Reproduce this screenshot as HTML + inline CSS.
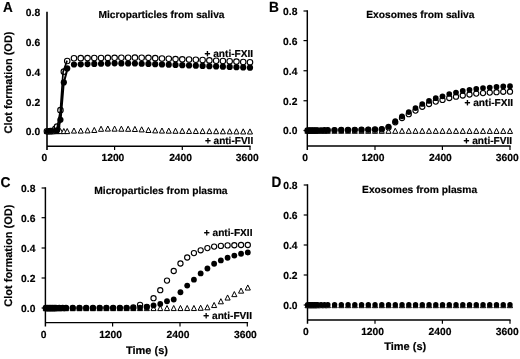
<!DOCTYPE html>
<html lang="en"><head><meta charset="utf-8"><title>Clot formation</title>
<style>html,body{margin:0;padding:0;background:#fff}svg{display:block;filter:blur(.3px)}text{stroke:#000;stroke-width:.18px;stroke-linejoin:round}</style></head>
<body>
<svg width="520" height="359" viewBox="0 0 520 359" font-family='"Liberation Sans", Arial, Helvetica, sans-serif' font-weight="700" fill="#000" text-rendering="geometricPrecision">
<rect width="520" height="359" fill="#fff"/>
<path d="M47 11.799999999999999V150.1M47 146.2H250.6" fill="none" stroke="#000" stroke-width="1.6" stroke-linejoin="miter"/>
<path d="M114.6 146.2V150.1" stroke="#000" stroke-width="1.2"/>
<path d="M182.3 146.2V150.1" stroke="#000" stroke-width="1.2"/>
<path d="M250 146.2V150.1" stroke="#000" stroke-width="1.2"/>
<text x="40.2" y="16.3" font-size="10.3" text-anchor="end" >0.8</text>
<text x="40.2" y="46.3" font-size="10.3" text-anchor="end" >0.6</text>
<text x="40.2" y="76.3" font-size="10.3" text-anchor="end" >0.4</text>
<text x="40.2" y="105.9" font-size="10.3" text-anchor="end" >0.2</text>
<text x="40.2" y="135.3" font-size="10.3" text-anchor="end" >0.0</text>
<text x="44.4" y="161.1" font-size="10.3" text-anchor="middle" >0</text>
<text x="112.9" y="161.1" font-size="10.3" text-anchor="middle" >1200</text>
<text x="180.6" y="161.1" font-size="10.3" text-anchor="middle" >2400</text>
<text x="247.2" y="161.1" font-size="10.3" text-anchor="middle" >3600</text>
<path d="M307.3 10.275V149.9M307.3 146.0H510.6" fill="none" stroke="#000" stroke-width="1.45" stroke-linejoin="miter"/>
<path d="M375 146.0V149.9" stroke="#000" stroke-width="1.2"/>
<path d="M442.4 146.0V149.9" stroke="#000" stroke-width="1.2"/>
<path d="M510 146.0V149.9" stroke="#000" stroke-width="1.2"/>
<path d="M303.5 11H307.3" stroke="#000" stroke-width="1.2"/>
<path d="M303.5 40.6H307.3" stroke="#000" stroke-width="1.2"/>
<path d="M303.5 70.75H307.3" stroke="#000" stroke-width="1.2"/>
<path d="M303.5 100.75H307.3" stroke="#000" stroke-width="1.2"/>
<path d="M303.5 130.5H307.3" stroke="#000" stroke-width="1.2"/>
<text x="297.4" y="14.9" font-size="10.3" text-anchor="end" >0.8</text>
<text x="297.4" y="44.5" font-size="10.3" text-anchor="end" >0.6</text>
<text x="297.4" y="74.8" font-size="10.3" text-anchor="end" >0.4</text>
<text x="297.4" y="104.7" font-size="10.3" text-anchor="end" >0.2</text>
<text x="297.4" y="134.3" font-size="10.3" text-anchor="end" >0.0</text>
<text x="305.0" y="160.7" font-size="10.3" text-anchor="middle" >0</text>
<text x="373.0" y="160.7" font-size="10.3" text-anchor="middle" >1200</text>
<text x="440.4" y="160.7" font-size="10.3" text-anchor="middle" >2400</text>
<text x="507.3" y="160.7" font-size="10.3" text-anchor="middle" >3600</text>
<path d="M45.4 187.275V326.5M45.4 322.6H248.1" fill="none" stroke="#000" stroke-width="1.45" stroke-linejoin="miter"/>
<path d="M112.6 322.6V326.5" stroke="#000" stroke-width="1.2"/>
<path d="M180 322.6V326.5" stroke="#000" stroke-width="1.2"/>
<path d="M247.3 322.6V326.5" stroke="#000" stroke-width="1.2"/>
<path d="M41.6 188H45.4" stroke="#000" stroke-width="1.2"/>
<path d="M41.6 217.7H45.4" stroke="#000" stroke-width="1.2"/>
<path d="M41.6 248H45.4" stroke="#000" stroke-width="1.2"/>
<path d="M41.6 278H45.4" stroke="#000" stroke-width="1.2"/>
<path d="M41.6 308H45.4" stroke="#000" stroke-width="1.2"/>
<text x="35.4" y="191.8" font-size="10.3" text-anchor="end" >0.8</text>
<text x="35.4" y="221.5" font-size="10.3" text-anchor="end" >0.6</text>
<text x="35.4" y="251.8" font-size="10.3" text-anchor="end" >0.4</text>
<text x="35.4" y="281.8" font-size="10.3" text-anchor="end" >0.2</text>
<text x="35.4" y="311.8" font-size="10.3" text-anchor="end" >0.0</text>
<text x="43.6" y="338.2" font-size="10.3" text-anchor="middle" >0</text>
<text x="110.6" y="338.2" font-size="10.3" text-anchor="middle" >1200</text>
<text x="178.0" y="338.2" font-size="10.3" text-anchor="middle" >2400</text>
<text x="245.4" y="338.2" font-size="10.3" text-anchor="middle" >3600</text>
<path d="M307.5 184.275V323.84999999999997M307.5 319.95H510.6" fill="none" stroke="#000" stroke-width="1.45" stroke-linejoin="miter"/>
<path d="M375 319.95V323.84999999999997" stroke="#000" stroke-width="1.2"/>
<path d="M442.4 319.95V323.84999999999997" stroke="#000" stroke-width="1.2"/>
<path d="M510 319.95V323.84999999999997" stroke="#000" stroke-width="1.2"/>
<path d="M303.7 185H307.5" stroke="#000" stroke-width="1.2"/>
<path d="M303.7 215H307.5" stroke="#000" stroke-width="1.2"/>
<path d="M303.7 245H307.5" stroke="#000" stroke-width="1.2"/>
<path d="M303.7 275H307.5" stroke="#000" stroke-width="1.2"/>
<path d="M303.7 305H307.5" stroke="#000" stroke-width="1.2"/>
<text x="297.6" y="188.7" font-size="10.3" text-anchor="end" >0.8</text>
<text x="297.6" y="218.7" font-size="10.3" text-anchor="end" >0.6</text>
<text x="297.6" y="248.7" font-size="10.3" text-anchor="end" >0.4</text>
<text x="297.6" y="278.7" font-size="10.3" text-anchor="end" >0.2</text>
<text x="297.6" y="308.7" font-size="10.3" text-anchor="end" >0.0</text>
<text x="305.8" y="334.7" font-size="10.3" text-anchor="middle" >0</text>
<text x="372.6" y="334.7" font-size="10.3" text-anchor="middle" >1200</text>
<text x="440.0" y="334.7" font-size="10.3" text-anchor="middle" >2400</text>
<text x="507.2" y="334.7" font-size="10.3" text-anchor="middle" >3600</text>
<text transform="translate(2.9 11.9) scale(0.94 1)" font-size="14.4">A</text>
<text transform="translate(269.0 12.3) scale(0.94 1)" font-size="14.6">B</text>
<text transform="translate(0.6 186.9) scale(0.97 1)" font-size="14.2">C</text>
<text transform="translate(271.5 186.7) scale(0.92 1)" font-size="14.8">D</text>
<text x="161.5" y="17.5" font-size="10.22" text-anchor="middle" >Microparticles from saliva</text>
<text x="420.3" y="17.5" font-size="10.25" text-anchor="middle" >Exosomes from saliva</text>
<text x="160.9" y="193.6" font-size="10.25" text-anchor="middle" >Microparticles from plasma</text>
<text x="419.6" y="193.1" font-size="10.25" text-anchor="middle" >Exosomes from plasma</text>
<text transform="translate(12.2 82.5) rotate(-90)" font-size="11" text-anchor="middle">Clot formation (OD)</text>
<text transform="translate(12.0 255.7) rotate(-90)" font-size="11" text-anchor="middle">Clot formation (OD)</text>
<text x="147" y="353.5" font-size="11" text-anchor="middle" >Time (s)</text>
<text x="405.2" y="350.1" font-size="11" text-anchor="middle" >Time (s)</text>
<text x="253.2" y="57.2" font-size="10.15" text-anchor="end" >+ anti-FXII</text>
<text x="253.2" y="143.8" font-size="10.05" text-anchor="end" >+ anti-FVII</text>
<text x="513.2" y="106.4" font-size="10.15" text-anchor="end" >+ anti-FXII</text>
<text x="512.2" y="143.7" font-size="10.15" text-anchor="end" >+ anti-FVII</text>
<text x="252.5" y="236.1" font-size="10.15" text-anchor="end" >+ anti-FXII</text>
<text x="252.0" y="318.8" font-size="10.15" text-anchor="end" >+ anti-FVII</text>
<path d="M46.90 128.50L49.45 133.60L44.35 133.60Z" fill="#fff" stroke="#000" stroke-width="1.0" stroke-linejoin="miter"/>
<path d="M48.59 128.50L51.14 133.60L46.04 133.60Z" fill="#fff" stroke="#000" stroke-width="1.0" stroke-linejoin="miter"/>
<path d="M50.28 128.50L52.83 133.60L47.73 133.60Z" fill="#fff" stroke="#000" stroke-width="1.0" stroke-linejoin="miter"/>
<path d="M51.98 128.50L54.53 133.60L49.43 133.60Z" fill="#fff" stroke="#000" stroke-width="1.0" stroke-linejoin="miter"/>
<path d="M53.67 128.50L56.22 133.60L51.12 133.60Z" fill="#fff" stroke="#000" stroke-width="1.0" stroke-linejoin="miter"/>
<path d="M55.36 128.50L57.91 133.60L52.81 133.60Z" fill="#fff" stroke="#000" stroke-width="1.0" stroke-linejoin="miter"/>
<path d="M57.05 128.50L59.60 133.60L54.50 133.60Z" fill="#fff" stroke="#000" stroke-width="1.0" stroke-linejoin="miter"/>
<path d="M60.44 128.50L62.99 133.60L57.89 133.60Z" fill="#fff" stroke="#000" stroke-width="1.0" stroke-linejoin="miter"/>
<path d="M63.82 128.50L66.37 133.60L61.27 133.60Z" fill="#fff" stroke="#000" stroke-width="1.0" stroke-linejoin="miter"/>
<path d="M67.21 128.50L69.76 133.60L64.66 133.60Z" fill="#fff" stroke="#000" stroke-width="1.0" stroke-linejoin="miter"/>
<path d="M73.98 128.00L76.53 133.10L71.43 133.10Z" fill="#fff" stroke="#000" stroke-width="1.0" stroke-linejoin="miter"/>
<path d="M80.75 128.00L83.30 133.10L78.20 133.10Z" fill="#fff" stroke="#000" stroke-width="1.0" stroke-linejoin="miter"/>
<path d="M87.52 127.80L90.07 132.90L84.97 132.90Z" fill="#fff" stroke="#000" stroke-width="1.0" stroke-linejoin="miter"/>
<path d="M94.28 127.40L96.83 132.50L91.73 132.50Z" fill="#fff" stroke="#000" stroke-width="1.0" stroke-linejoin="miter"/>
<path d="M101.05 126.20L103.60 131.30L98.50 131.30Z" fill="#fff" stroke="#000" stroke-width="1.0" stroke-linejoin="miter"/>
<path d="M107.82 126.00L110.37 131.10L105.27 131.10Z" fill="#fff" stroke="#000" stroke-width="1.0" stroke-linejoin="miter"/>
<path d="M114.59 126.07L117.14 131.17L112.04 131.17Z" fill="#fff" stroke="#000" stroke-width="1.0" stroke-linejoin="miter"/>
<path d="M121.36 126.13L123.91 131.23L118.81 131.23Z" fill="#fff" stroke="#000" stroke-width="1.0" stroke-linejoin="miter"/>
<path d="M128.13 126.20L130.68 131.30L125.58 131.30Z" fill="#fff" stroke="#000" stroke-width="1.0" stroke-linejoin="miter"/>
<path d="M134.90 126.40L137.45 131.50L132.35 131.50Z" fill="#fff" stroke="#000" stroke-width="1.0" stroke-linejoin="miter"/>
<path d="M141.67 126.80L144.22 131.90L139.12 131.90Z" fill="#fff" stroke="#000" stroke-width="1.0" stroke-linejoin="miter"/>
<path d="M148.44 127.40L150.99 132.50L145.89 132.50Z" fill="#fff" stroke="#000" stroke-width="1.0" stroke-linejoin="miter"/>
<path d="M155.21 127.80L157.76 132.90L152.66 132.90Z" fill="#fff" stroke="#000" stroke-width="1.0" stroke-linejoin="miter"/>
<path d="M161.98 128.00L164.53 133.10L159.43 133.10Z" fill="#fff" stroke="#000" stroke-width="1.0" stroke-linejoin="miter"/>
<path d="M168.75 128.10L171.30 133.20L166.20 133.20Z" fill="#fff" stroke="#000" stroke-width="1.0" stroke-linejoin="miter"/>
<path d="M175.51 128.20L178.06 133.30L172.96 133.30Z" fill="#fff" stroke="#000" stroke-width="1.0" stroke-linejoin="miter"/>
<path d="M182.28 128.30L184.83 133.40L179.73 133.40Z" fill="#fff" stroke="#000" stroke-width="1.0" stroke-linejoin="miter"/>
<path d="M189.05 128.36L191.60 133.46L186.50 133.46Z" fill="#fff" stroke="#000" stroke-width="1.0" stroke-linejoin="miter"/>
<path d="M195.82 128.42L198.37 133.52L193.27 133.52Z" fill="#fff" stroke="#000" stroke-width="1.0" stroke-linejoin="miter"/>
<path d="M202.59 128.48L205.14 133.58L200.04 133.58Z" fill="#fff" stroke="#000" stroke-width="1.0" stroke-linejoin="miter"/>
<path d="M209.36 128.54L211.91 133.64L206.81 133.64Z" fill="#fff" stroke="#000" stroke-width="1.0" stroke-linejoin="miter"/>
<path d="M216.13 128.60L218.68 133.70L213.58 133.70Z" fill="#fff" stroke="#000" stroke-width="1.0" stroke-linejoin="miter"/>
<path d="M222.90 128.66L225.45 133.76L220.35 133.76Z" fill="#fff" stroke="#000" stroke-width="1.0" stroke-linejoin="miter"/>
<path d="M229.67 128.72L232.22 133.82L227.12 133.82Z" fill="#fff" stroke="#000" stroke-width="1.0" stroke-linejoin="miter"/>
<path d="M236.44 128.78L238.99 133.88L233.89 133.88Z" fill="#fff" stroke="#000" stroke-width="1.0" stroke-linejoin="miter"/>
<path d="M243.21 128.84L245.76 133.94L240.66 133.94Z" fill="#fff" stroke="#000" stroke-width="1.0" stroke-linejoin="miter"/>
<path d="M249.98 128.90L252.53 134.00L247.43 134.00Z" fill="#fff" stroke="#000" stroke-width="1.0" stroke-linejoin="miter"/>
<circle cx="46.90" cy="131.25" r="2.75" fill="#fff" stroke="#000" stroke-width="1.12"/>
<circle cx="48.59" cy="131.20" r="2.75" fill="#fff" stroke="#000" stroke-width="1.12"/>
<circle cx="50.28" cy="131.15" r="2.75" fill="#fff" stroke="#000" stroke-width="1.12"/>
<circle cx="51.98" cy="131.10" r="2.75" fill="#fff" stroke="#000" stroke-width="1.12"/>
<circle cx="53.67" cy="131.05" r="2.75" fill="#fff" stroke="#000" stroke-width="1.12"/>
<circle cx="55.36" cy="128.85" r="2.75" fill="#fff" stroke="#000" stroke-width="1.12"/>
<circle cx="57.05" cy="126.65" r="2.75" fill="#fff" stroke="#000" stroke-width="1.12"/>
<circle cx="60.44" cy="110.15" r="2.75" fill="#fff" stroke="#000" stroke-width="1.12"/>
<circle cx="63.82" cy="71.65" r="2.75" fill="#fff" stroke="#000" stroke-width="1.12"/>
<circle cx="67.21" cy="60.95" r="2.75" fill="#fff" stroke="#000" stroke-width="1.12"/>
<circle cx="73.98" cy="58.25" r="2.75" fill="#fff" stroke="#000" stroke-width="1.12"/>
<circle cx="80.75" cy="58.18" r="2.75" fill="#fff" stroke="#000" stroke-width="1.12"/>
<circle cx="87.52" cy="58.12" r="2.75" fill="#fff" stroke="#000" stroke-width="1.12"/>
<circle cx="94.28" cy="58.05" r="2.75" fill="#fff" stroke="#000" stroke-width="1.12"/>
<circle cx="101.05" cy="57.98" r="2.75" fill="#fff" stroke="#000" stroke-width="1.12"/>
<circle cx="107.82" cy="57.92" r="2.75" fill="#fff" stroke="#000" stroke-width="1.12"/>
<circle cx="114.59" cy="57.85" r="2.75" fill="#fff" stroke="#000" stroke-width="1.12"/>
<circle cx="121.36" cy="57.78" r="2.75" fill="#fff" stroke="#000" stroke-width="1.12"/>
<circle cx="128.13" cy="57.72" r="2.75" fill="#fff" stroke="#000" stroke-width="1.12"/>
<circle cx="134.90" cy="57.65" r="2.75" fill="#fff" stroke="#000" stroke-width="1.12"/>
<circle cx="141.67" cy="57.75" r="2.75" fill="#fff" stroke="#000" stroke-width="1.12"/>
<circle cx="148.44" cy="57.85" r="2.75" fill="#fff" stroke="#000" stroke-width="1.12"/>
<circle cx="155.21" cy="58.17" r="2.75" fill="#fff" stroke="#000" stroke-width="1.12"/>
<circle cx="161.98" cy="58.50" r="2.75" fill="#fff" stroke="#000" stroke-width="1.12"/>
<circle cx="168.75" cy="58.78" r="2.75" fill="#fff" stroke="#000" stroke-width="1.12"/>
<circle cx="175.51" cy="59.07" r="2.75" fill="#fff" stroke="#000" stroke-width="1.12"/>
<circle cx="182.28" cy="59.35" r="2.75" fill="#fff" stroke="#000" stroke-width="1.12"/>
<circle cx="189.05" cy="59.55" r="2.75" fill="#fff" stroke="#000" stroke-width="1.12"/>
<circle cx="195.82" cy="59.75" r="2.75" fill="#fff" stroke="#000" stroke-width="1.12"/>
<circle cx="202.59" cy="60.06" r="2.75" fill="#fff" stroke="#000" stroke-width="1.12"/>
<circle cx="209.36" cy="60.38" r="2.75" fill="#fff" stroke="#000" stroke-width="1.12"/>
<circle cx="216.13" cy="60.69" r="2.75" fill="#fff" stroke="#000" stroke-width="1.12"/>
<circle cx="222.90" cy="61.00" r="2.75" fill="#fff" stroke="#000" stroke-width="1.12"/>
<circle cx="229.67" cy="61.31" r="2.75" fill="#fff" stroke="#000" stroke-width="1.12"/>
<circle cx="236.44" cy="61.62" r="2.75" fill="#fff" stroke="#000" stroke-width="1.12"/>
<circle cx="243.21" cy="61.94" r="2.75" fill="#fff" stroke="#000" stroke-width="1.12"/>
<circle cx="249.98" cy="62.25" r="2.75" fill="#fff" stroke="#000" stroke-width="1.12"/>
<path d="M46.5 131.5H56.5L60.4 110.4L63.1 71.9L66.9 61.2" fill="none" stroke="#000" stroke-width="1.7" stroke-linejoin="round" stroke-linecap="round"/>
<path d="M46.5 131.5H57.5L60.6 120L63.75 82.7L67.5 68.7" fill="none" stroke="#000" stroke-width="2.0" stroke-linejoin="round" stroke-linecap="round"/>
<circle cx="46.90" cy="131.25" r="2.30" fill="#000"/>
<circle cx="48.59" cy="131.08" r="2.30" fill="#000"/>
<circle cx="50.28" cy="130.92" r="2.30" fill="#000"/>
<circle cx="51.98" cy="130.75" r="2.30" fill="#000"/>
<circle cx="53.67" cy="130.58" r="2.30" fill="#000"/>
<circle cx="55.36" cy="130.42" r="2.30" fill="#000"/>
<circle cx="57.05" cy="130.25" r="3.10" fill="#000"/>
<circle cx="60.44" cy="119.75" r="3.10" fill="#000"/>
<circle cx="63.82" cy="82.45" r="3.10" fill="#000"/>
<circle cx="67.21" cy="68.45" r="3.10" fill="#000"/>
<circle cx="73.98" cy="64.50" r="3.10" fill="#000"/>
<circle cx="80.75" cy="64.31" r="3.10" fill="#000"/>
<circle cx="87.52" cy="64.12" r="3.10" fill="#000"/>
<circle cx="94.28" cy="63.92" r="3.10" fill="#000"/>
<circle cx="101.05" cy="63.73" r="3.10" fill="#000"/>
<circle cx="107.82" cy="63.54" r="3.10" fill="#000"/>
<circle cx="114.59" cy="63.35" r="3.10" fill="#000"/>
<circle cx="121.36" cy="63.40" r="3.10" fill="#000"/>
<circle cx="128.13" cy="63.45" r="3.10" fill="#000"/>
<circle cx="134.90" cy="63.50" r="3.10" fill="#000"/>
<circle cx="141.67" cy="63.74" r="3.10" fill="#000"/>
<circle cx="148.44" cy="63.97" r="3.10" fill="#000"/>
<circle cx="155.21" cy="64.21" r="3.10" fill="#000"/>
<circle cx="161.98" cy="64.44" r="3.10" fill="#000"/>
<circle cx="168.75" cy="64.68" r="3.10" fill="#000"/>
<circle cx="175.51" cy="64.91" r="3.10" fill="#000"/>
<circle cx="182.28" cy="65.15" r="3.10" fill="#000"/>
<circle cx="189.05" cy="65.40" r="3.10" fill="#000"/>
<circle cx="195.82" cy="65.65" r="3.10" fill="#000"/>
<circle cx="202.59" cy="65.90" r="3.10" fill="#000"/>
<circle cx="209.36" cy="66.15" r="3.10" fill="#000"/>
<circle cx="216.13" cy="66.40" r="3.10" fill="#000"/>
<circle cx="222.90" cy="66.65" r="3.10" fill="#000"/>
<circle cx="229.67" cy="66.90" r="3.10" fill="#000"/>
<circle cx="236.44" cy="67.15" r="3.10" fill="#000"/>
<circle cx="243.21" cy="67.40" r="3.10" fill="#000"/>
<circle cx="249.98" cy="67.65" r="3.10" fill="#000"/>
<path d="M307.50 128.15L310.05 133.25L304.95 133.25Z" fill="#fff" stroke="#000" stroke-width="1.0" stroke-linejoin="miter"/>
<path d="M309.19 128.15L311.74 133.25L306.64 133.25Z" fill="#fff" stroke="#000" stroke-width="1.0" stroke-linejoin="miter"/>
<path d="M310.88 128.15L313.43 133.25L308.32 133.25Z" fill="#fff" stroke="#000" stroke-width="1.0" stroke-linejoin="miter"/>
<path d="M312.56 128.15L315.11 133.25L310.01 133.25Z" fill="#fff" stroke="#000" stroke-width="1.0" stroke-linejoin="miter"/>
<path d="M314.25 128.16L316.80 133.26L311.70 133.26Z" fill="#fff" stroke="#000" stroke-width="1.0" stroke-linejoin="miter"/>
<path d="M315.94 128.16L318.49 133.26L313.39 133.26Z" fill="#fff" stroke="#000" stroke-width="1.0" stroke-linejoin="miter"/>
<path d="M317.62 128.16L320.18 133.26L315.07 133.26Z" fill="#fff" stroke="#000" stroke-width="1.0" stroke-linejoin="miter"/>
<path d="M321.00 128.16L323.55 133.26L318.45 133.26Z" fill="#fff" stroke="#000" stroke-width="1.0" stroke-linejoin="miter"/>
<path d="M324.38 128.17L326.93 133.27L321.82 133.27Z" fill="#fff" stroke="#000" stroke-width="1.0" stroke-linejoin="miter"/>
<path d="M327.75 128.17L330.30 133.27L325.20 133.27Z" fill="#fff" stroke="#000" stroke-width="1.0" stroke-linejoin="miter"/>
<path d="M334.50 128.18L337.05 133.28L331.95 133.28Z" fill="#fff" stroke="#000" stroke-width="1.0" stroke-linejoin="miter"/>
<path d="M341.25 128.18L343.80 133.28L338.70 133.28Z" fill="#fff" stroke="#000" stroke-width="1.0" stroke-linejoin="miter"/>
<path d="M348.00 128.19L350.55 133.29L345.45 133.29Z" fill="#fff" stroke="#000" stroke-width="1.0" stroke-linejoin="miter"/>
<path d="M354.75 128.20L357.30 133.30L352.20 133.30Z" fill="#fff" stroke="#000" stroke-width="1.0" stroke-linejoin="miter"/>
<path d="M361.50 128.20L364.05 133.30L358.95 133.30Z" fill="#fff" stroke="#000" stroke-width="1.0" stroke-linejoin="miter"/>
<path d="M368.25 128.21L370.80 133.31L365.70 133.31Z" fill="#fff" stroke="#000" stroke-width="1.0" stroke-linejoin="miter"/>
<path d="M375.00 128.22L377.55 133.32L372.45 133.32Z" fill="#fff" stroke="#000" stroke-width="1.0" stroke-linejoin="miter"/>
<path d="M381.75 128.22L384.30 133.32L379.20 133.32Z" fill="#fff" stroke="#000" stroke-width="1.0" stroke-linejoin="miter"/>
<path d="M388.50 128.23L391.05 133.33L385.95 133.33Z" fill="#fff" stroke="#000" stroke-width="1.0" stroke-linejoin="miter"/>
<path d="M395.25 128.24L397.80 133.34L392.70 133.34Z" fill="#fff" stroke="#000" stroke-width="1.0" stroke-linejoin="miter"/>
<path d="M402.00 128.24L404.55 133.34L399.45 133.34Z" fill="#fff" stroke="#000" stroke-width="1.0" stroke-linejoin="miter"/>
<path d="M408.75 128.25L411.30 133.35L406.20 133.35Z" fill="#fff" stroke="#000" stroke-width="1.0" stroke-linejoin="miter"/>
<path d="M415.50 128.26L418.05 133.36L412.95 133.36Z" fill="#fff" stroke="#000" stroke-width="1.0" stroke-linejoin="miter"/>
<path d="M422.25 128.26L424.80 133.36L419.70 133.36Z" fill="#fff" stroke="#000" stroke-width="1.0" stroke-linejoin="miter"/>
<path d="M429.00 128.27L431.55 133.37L426.45 133.37Z" fill="#fff" stroke="#000" stroke-width="1.0" stroke-linejoin="miter"/>
<path d="M435.75 128.28L438.30 133.38L433.20 133.38Z" fill="#fff" stroke="#000" stroke-width="1.0" stroke-linejoin="miter"/>
<path d="M442.50 128.28L445.05 133.38L439.95 133.38Z" fill="#fff" stroke="#000" stroke-width="1.0" stroke-linejoin="miter"/>
<path d="M449.25 128.29L451.80 133.39L446.70 133.39Z" fill="#fff" stroke="#000" stroke-width="1.0" stroke-linejoin="miter"/>
<path d="M456.00 128.30L458.55 133.40L453.45 133.40Z" fill="#fff" stroke="#000" stroke-width="1.0" stroke-linejoin="miter"/>
<path d="M462.75 128.30L465.30 133.40L460.20 133.40Z" fill="#fff" stroke="#000" stroke-width="1.0" stroke-linejoin="miter"/>
<path d="M469.50 128.31L472.05 133.41L466.95 133.41Z" fill="#fff" stroke="#000" stroke-width="1.0" stroke-linejoin="miter"/>
<path d="M476.25 128.32L478.80 133.42L473.70 133.42Z" fill="#fff" stroke="#000" stroke-width="1.0" stroke-linejoin="miter"/>
<path d="M483.00 128.32L485.55 133.42L480.45 133.42Z" fill="#fff" stroke="#000" stroke-width="1.0" stroke-linejoin="miter"/>
<path d="M489.75 128.33L492.30 133.43L487.20 133.43Z" fill="#fff" stroke="#000" stroke-width="1.0" stroke-linejoin="miter"/>
<path d="M496.50 128.34L499.05 133.44L493.95 133.44Z" fill="#fff" stroke="#000" stroke-width="1.0" stroke-linejoin="miter"/>
<path d="M503.25 128.34L505.80 133.44L500.70 133.44Z" fill="#fff" stroke="#000" stroke-width="1.0" stroke-linejoin="miter"/>
<path d="M510.00 128.35L512.55 133.45L507.45 133.45Z" fill="#fff" stroke="#000" stroke-width="1.0" stroke-linejoin="miter"/>
<circle cx="307.50" cy="130.50" r="2.60" fill="#fff" stroke="#000" stroke-width="1.12"/>
<circle cx="309.19" cy="130.47" r="2.60" fill="#fff" stroke="#000" stroke-width="1.12"/>
<circle cx="310.88" cy="130.45" r="2.60" fill="#fff" stroke="#000" stroke-width="1.12"/>
<circle cx="312.56" cy="130.43" r="2.60" fill="#fff" stroke="#000" stroke-width="1.12"/>
<circle cx="314.25" cy="130.40" r="2.60" fill="#fff" stroke="#000" stroke-width="1.12"/>
<circle cx="315.94" cy="130.38" r="2.60" fill="#fff" stroke="#000" stroke-width="1.12"/>
<circle cx="317.62" cy="130.35" r="2.60" fill="#fff" stroke="#000" stroke-width="1.12"/>
<circle cx="321.00" cy="130.30" r="2.60" fill="#fff" stroke="#000" stroke-width="1.12"/>
<circle cx="324.38" cy="130.25" r="2.60" fill="#fff" stroke="#000" stroke-width="1.12"/>
<circle cx="327.75" cy="130.20" r="2.60" fill="#fff" stroke="#000" stroke-width="1.12"/>
<circle cx="334.50" cy="130.10" r="2.60" fill="#fff" stroke="#000" stroke-width="1.12"/>
<circle cx="341.25" cy="130.00" r="2.60" fill="#fff" stroke="#000" stroke-width="1.12"/>
<circle cx="348.00" cy="129.90" r="2.60" fill="#fff" stroke="#000" stroke-width="1.12"/>
<circle cx="354.75" cy="129.80" r="2.60" fill="#fff" stroke="#000" stroke-width="1.12"/>
<circle cx="361.50" cy="129.70" r="2.60" fill="#fff" stroke="#000" stroke-width="1.12"/>
<circle cx="368.25" cy="129.60" r="2.60" fill="#fff" stroke="#000" stroke-width="1.12"/>
<circle cx="375.00" cy="129.50" r="2.60" fill="#fff" stroke="#000" stroke-width="1.12"/>
<circle cx="381.75" cy="129.40" r="2.60" fill="#fff" stroke="#000" stroke-width="1.12"/>
<circle cx="388.50" cy="127.40" r="2.60" fill="#fff" stroke="#000" stroke-width="1.12"/>
<circle cx="395.25" cy="122.30" r="2.60" fill="#fff" stroke="#000" stroke-width="1.12"/>
<circle cx="402.00" cy="118.00" r="2.60" fill="#fff" stroke="#000" stroke-width="1.12"/>
<circle cx="408.75" cy="114.20" r="2.60" fill="#fff" stroke="#000" stroke-width="1.12"/>
<circle cx="415.50" cy="110.60" r="2.60" fill="#fff" stroke="#000" stroke-width="1.12"/>
<circle cx="422.25" cy="106.80" r="2.60" fill="#fff" stroke="#000" stroke-width="1.12"/>
<circle cx="429.00" cy="104.00" r="2.60" fill="#fff" stroke="#000" stroke-width="1.12"/>
<circle cx="435.75" cy="101.60" r="2.60" fill="#fff" stroke="#000" stroke-width="1.12"/>
<circle cx="442.50" cy="99.90" r="2.60" fill="#fff" stroke="#000" stroke-width="1.12"/>
<circle cx="449.25" cy="98.00" r="2.60" fill="#fff" stroke="#000" stroke-width="1.12"/>
<circle cx="456.00" cy="96.70" r="2.60" fill="#fff" stroke="#000" stroke-width="1.12"/>
<circle cx="462.75" cy="95.50" r="2.60" fill="#fff" stroke="#000" stroke-width="1.12"/>
<circle cx="469.50" cy="94.50" r="2.60" fill="#fff" stroke="#000" stroke-width="1.12"/>
<circle cx="476.25" cy="93.60" r="2.60" fill="#fff" stroke="#000" stroke-width="1.12"/>
<circle cx="483.00" cy="93.10" r="2.60" fill="#fff" stroke="#000" stroke-width="1.12"/>
<circle cx="489.75" cy="92.60" r="2.60" fill="#fff" stroke="#000" stroke-width="1.12"/>
<circle cx="496.50" cy="92.20" r="2.60" fill="#fff" stroke="#000" stroke-width="1.12"/>
<circle cx="503.25" cy="91.80" r="2.60" fill="#fff" stroke="#000" stroke-width="1.12"/>
<circle cx="510.00" cy="91.70" r="2.60" fill="#fff" stroke="#000" stroke-width="1.12"/>
<circle cx="307.50" cy="130.50" r="2.60" fill="#000"/>
<circle cx="309.19" cy="130.47" r="2.60" fill="#000"/>
<circle cx="310.88" cy="130.45" r="2.60" fill="#000"/>
<circle cx="312.56" cy="130.43" r="2.60" fill="#000"/>
<circle cx="314.25" cy="130.40" r="2.60" fill="#000"/>
<circle cx="315.94" cy="130.38" r="2.60" fill="#000"/>
<circle cx="317.62" cy="130.35" r="2.60" fill="#000"/>
<circle cx="321.00" cy="130.30" r="2.60" fill="#000"/>
<circle cx="324.38" cy="130.25" r="2.60" fill="#000"/>
<circle cx="327.75" cy="130.20" r="2.60" fill="#000"/>
<circle cx="334.50" cy="130.00" r="2.85" fill="#000"/>
<circle cx="341.25" cy="129.93" r="2.85" fill="#000"/>
<circle cx="348.00" cy="129.87" r="2.85" fill="#000"/>
<circle cx="354.75" cy="129.80" r="2.85" fill="#000"/>
<circle cx="361.50" cy="129.73" r="2.85" fill="#000"/>
<circle cx="368.25" cy="129.67" r="2.85" fill="#000"/>
<circle cx="375.00" cy="129.60" r="2.85" fill="#000"/>
<circle cx="381.75" cy="128.90" r="2.85" fill="#000"/>
<circle cx="388.50" cy="126.60" r="2.85" fill="#000"/>
<circle cx="395.25" cy="121.20" r="2.85" fill="#000"/>
<circle cx="402.00" cy="116.30" r="2.85" fill="#000"/>
<circle cx="408.75" cy="112.10" r="2.85" fill="#000"/>
<circle cx="415.50" cy="108.10" r="2.85" fill="#000"/>
<circle cx="422.25" cy="104.00" r="2.85" fill="#000"/>
<circle cx="429.00" cy="100.90" r="2.85" fill="#000"/>
<circle cx="435.75" cy="98.20" r="2.85" fill="#000"/>
<circle cx="442.50" cy="96.30" r="2.85" fill="#000"/>
<circle cx="449.25" cy="94.00" r="2.85" fill="#000"/>
<circle cx="456.00" cy="92.60" r="2.85" fill="#000"/>
<circle cx="462.75" cy="90.90" r="2.85" fill="#000"/>
<circle cx="469.50" cy="89.80" r="2.85" fill="#000"/>
<circle cx="476.25" cy="88.90" r="2.85" fill="#000"/>
<circle cx="483.00" cy="88.00" r="2.85" fill="#000"/>
<circle cx="489.75" cy="87.50" r="2.85" fill="#000"/>
<circle cx="496.50" cy="86.90" r="2.85" fill="#000"/>
<circle cx="503.25" cy="86.40" r="2.85" fill="#000"/>
<circle cx="510.00" cy="86.20" r="2.85" fill="#000"/>
<path d="M45.80 305.65L48.35 310.75L43.25 310.75Z" fill="#fff" stroke="#000" stroke-width="1.0" stroke-linejoin="miter"/>
<path d="M47.48 305.65L50.03 310.75L44.93 310.75Z" fill="#fff" stroke="#000" stroke-width="1.0" stroke-linejoin="miter"/>
<path d="M49.17 305.65L51.72 310.75L46.62 310.75Z" fill="#fff" stroke="#000" stroke-width="1.0" stroke-linejoin="miter"/>
<path d="M50.85 305.64L53.40 310.74L48.30 310.74Z" fill="#fff" stroke="#000" stroke-width="1.0" stroke-linejoin="miter"/>
<path d="M52.53 305.64L55.08 310.74L49.98 310.74Z" fill="#fff" stroke="#000" stroke-width="1.0" stroke-linejoin="miter"/>
<path d="M54.22 305.64L56.77 310.74L51.67 310.74Z" fill="#fff" stroke="#000" stroke-width="1.0" stroke-linejoin="miter"/>
<path d="M55.90 305.64L58.45 310.74L53.35 310.74Z" fill="#fff" stroke="#000" stroke-width="1.0" stroke-linejoin="miter"/>
<path d="M59.27 305.63L61.82 310.73L56.72 310.73Z" fill="#fff" stroke="#000" stroke-width="1.0" stroke-linejoin="miter"/>
<path d="M62.63 305.63L65.18 310.73L60.08 310.73Z" fill="#fff" stroke="#000" stroke-width="1.0" stroke-linejoin="miter"/>
<path d="M66.00 305.62L68.55 310.72L63.45 310.72Z" fill="#fff" stroke="#000" stroke-width="1.0" stroke-linejoin="miter"/>
<path d="M72.73 305.61L75.28 310.71L70.18 310.71Z" fill="#fff" stroke="#000" stroke-width="1.0" stroke-linejoin="miter"/>
<path d="M79.47 305.60L82.02 310.70L76.92 310.70Z" fill="#fff" stroke="#000" stroke-width="1.0" stroke-linejoin="miter"/>
<path d="M86.20 305.60L88.75 310.70L83.65 310.70Z" fill="#fff" stroke="#000" stroke-width="1.0" stroke-linejoin="miter"/>
<path d="M92.93 305.59L95.48 310.69L90.38 310.69Z" fill="#fff" stroke="#000" stroke-width="1.0" stroke-linejoin="miter"/>
<path d="M99.67 305.58L102.22 310.68L97.12 310.68Z" fill="#fff" stroke="#000" stroke-width="1.0" stroke-linejoin="miter"/>
<path d="M106.40 305.57L108.95 310.67L103.85 310.67Z" fill="#fff" stroke="#000" stroke-width="1.0" stroke-linejoin="miter"/>
<path d="M113.13 305.56L115.68 310.66L110.58 310.66Z" fill="#fff" stroke="#000" stroke-width="1.0" stroke-linejoin="miter"/>
<path d="M119.87 305.55L122.42 310.65L117.32 310.65Z" fill="#fff" stroke="#000" stroke-width="1.0" stroke-linejoin="miter"/>
<path d="M126.60 305.54L129.15 310.64L124.05 310.64Z" fill="#fff" stroke="#000" stroke-width="1.0" stroke-linejoin="miter"/>
<path d="M133.33 305.53L135.88 310.63L130.78 310.63Z" fill="#fff" stroke="#000" stroke-width="1.0" stroke-linejoin="miter"/>
<path d="M140.06 305.52L142.61 310.62L137.51 310.62Z" fill="#fff" stroke="#000" stroke-width="1.0" stroke-linejoin="miter"/>
<path d="M146.80 305.51L149.35 310.61L144.25 310.61Z" fill="#fff" stroke="#000" stroke-width="1.0" stroke-linejoin="miter"/>
<path d="M153.53 305.50L156.08 310.60L150.98 310.60Z" fill="#fff" stroke="#000" stroke-width="1.0" stroke-linejoin="miter"/>
<path d="M160.26 305.50L162.81 310.60L157.71 310.60Z" fill="#fff" stroke="#000" stroke-width="1.0" stroke-linejoin="miter"/>
<path d="M167.00 305.49L169.55 310.59L164.45 310.59Z" fill="#fff" stroke="#000" stroke-width="1.0" stroke-linejoin="miter"/>
<path d="M173.73 305.48L176.28 310.58L171.18 310.58Z" fill="#fff" stroke="#000" stroke-width="1.0" stroke-linejoin="miter"/>
<path d="M180.46 305.47L183.01 310.57L177.91 310.57Z" fill="#fff" stroke="#000" stroke-width="1.0" stroke-linejoin="miter"/>
<path d="M187.20 305.46L189.75 310.56L184.65 310.56Z" fill="#fff" stroke="#000" stroke-width="1.0" stroke-linejoin="miter"/>
<path d="M193.93 305.45L196.48 310.55L191.38 310.55Z" fill="#fff" stroke="#000" stroke-width="1.0" stroke-linejoin="miter"/>
<path d="M200.66 305.20L203.21 310.30L198.11 310.30Z" fill="#fff" stroke="#000" stroke-width="1.0" stroke-linejoin="miter"/>
<path d="M207.40 304.70L209.95 309.80L204.85 309.80Z" fill="#fff" stroke="#000" stroke-width="1.0" stroke-linejoin="miter"/>
<path d="M214.13 302.45L216.68 307.55L211.58 307.55Z" fill="#fff" stroke="#000" stroke-width="1.0" stroke-linejoin="miter"/>
<path d="M220.86 298.70L223.41 303.80L218.31 303.80Z" fill="#fff" stroke="#000" stroke-width="1.0" stroke-linejoin="miter"/>
<path d="M227.60 294.95L230.15 300.05L225.05 300.05Z" fill="#fff" stroke="#000" stroke-width="1.0" stroke-linejoin="miter"/>
<path d="M234.33 291.55L236.88 296.65L231.78 296.65Z" fill="#fff" stroke="#000" stroke-width="1.0" stroke-linejoin="miter"/>
<path d="M241.06 288.05L243.61 293.15L238.51 293.15Z" fill="#fff" stroke="#000" stroke-width="1.0" stroke-linejoin="miter"/>
<path d="M247.80 284.95L250.35 290.05L245.25 290.05Z" fill="#fff" stroke="#000" stroke-width="1.0" stroke-linejoin="miter"/>
<circle cx="45.80" cy="308.00" r="2.60" fill="#fff" stroke="#000" stroke-width="1.12"/>
<circle cx="47.48" cy="308.00" r="2.60" fill="#fff" stroke="#000" stroke-width="1.12"/>
<circle cx="49.17" cy="307.99" r="2.60" fill="#fff" stroke="#000" stroke-width="1.12"/>
<circle cx="50.85" cy="307.99" r="2.60" fill="#fff" stroke="#000" stroke-width="1.12"/>
<circle cx="52.53" cy="307.98" r="2.60" fill="#fff" stroke="#000" stroke-width="1.12"/>
<circle cx="54.22" cy="307.98" r="2.60" fill="#fff" stroke="#000" stroke-width="1.12"/>
<circle cx="55.90" cy="307.98" r="2.60" fill="#fff" stroke="#000" stroke-width="1.12"/>
<circle cx="59.27" cy="307.97" r="2.60" fill="#fff" stroke="#000" stroke-width="1.12"/>
<circle cx="62.63" cy="307.96" r="2.60" fill="#fff" stroke="#000" stroke-width="1.12"/>
<circle cx="66.00" cy="307.95" r="2.60" fill="#fff" stroke="#000" stroke-width="1.12"/>
<circle cx="72.73" cy="307.93" r="2.60" fill="#fff" stroke="#000" stroke-width="1.12"/>
<circle cx="79.47" cy="307.92" r="2.60" fill="#fff" stroke="#000" stroke-width="1.12"/>
<circle cx="86.20" cy="307.90" r="2.60" fill="#fff" stroke="#000" stroke-width="1.12"/>
<circle cx="92.93" cy="307.88" r="2.60" fill="#fff" stroke="#000" stroke-width="1.12"/>
<circle cx="99.67" cy="307.87" r="2.60" fill="#fff" stroke="#000" stroke-width="1.12"/>
<circle cx="106.40" cy="307.85" r="2.60" fill="#fff" stroke="#000" stroke-width="1.12"/>
<circle cx="113.13" cy="307.83" r="2.60" fill="#fff" stroke="#000" stroke-width="1.12"/>
<circle cx="119.87" cy="307.82" r="2.60" fill="#fff" stroke="#000" stroke-width="1.12"/>
<circle cx="126.60" cy="307.80" r="2.60" fill="#fff" stroke="#000" stroke-width="1.12"/>
<circle cx="133.33" cy="307.50" r="2.60" fill="#fff" stroke="#000" stroke-width="1.12"/>
<circle cx="140.06" cy="304.80" r="2.60" fill="#fff" stroke="#000" stroke-width="1.12"/>
<circle cx="146.80" cy="306.80" r="2.60" fill="#fff" stroke="#000" stroke-width="1.12"/>
<circle cx="153.53" cy="298.20" r="2.60" fill="#fff" stroke="#000" stroke-width="1.12"/>
<circle cx="160.26" cy="290.20" r="2.60" fill="#fff" stroke="#000" stroke-width="1.12"/>
<circle cx="167.00" cy="280.60" r="2.60" fill="#fff" stroke="#000" stroke-width="1.12"/>
<circle cx="173.73" cy="271.00" r="2.60" fill="#fff" stroke="#000" stroke-width="1.12"/>
<circle cx="180.46" cy="263.50" r="2.60" fill="#fff" stroke="#000" stroke-width="1.12"/>
<circle cx="187.20" cy="257.50" r="2.60" fill="#fff" stroke="#000" stroke-width="1.12"/>
<circle cx="193.93" cy="253.10" r="2.60" fill="#fff" stroke="#000" stroke-width="1.12"/>
<circle cx="200.66" cy="250.30" r="2.60" fill="#fff" stroke="#000" stroke-width="1.12"/>
<circle cx="207.40" cy="248.10" r="2.60" fill="#fff" stroke="#000" stroke-width="1.12"/>
<circle cx="214.13" cy="246.60" r="2.60" fill="#fff" stroke="#000" stroke-width="1.12"/>
<circle cx="220.86" cy="245.90" r="2.60" fill="#fff" stroke="#000" stroke-width="1.12"/>
<circle cx="227.60" cy="245.40" r="2.60" fill="#fff" stroke="#000" stroke-width="1.12"/>
<circle cx="234.33" cy="245.25" r="2.60" fill="#fff" stroke="#000" stroke-width="1.12"/>
<circle cx="241.06" cy="245.00" r="2.60" fill="#fff" stroke="#000" stroke-width="1.12"/>
<circle cx="247.80" cy="245.00" r="2.60" fill="#fff" stroke="#000" stroke-width="1.12"/>
<circle cx="45.80" cy="308.00" r="2.90" fill="#000"/>
<circle cx="47.48" cy="308.00" r="2.90" fill="#000"/>
<circle cx="49.17" cy="308.00" r="2.90" fill="#000"/>
<circle cx="50.85" cy="308.00" r="2.90" fill="#000"/>
<circle cx="52.53" cy="308.00" r="2.90" fill="#000"/>
<circle cx="54.22" cy="308.00" r="2.90" fill="#000"/>
<circle cx="55.90" cy="308.00" r="2.90" fill="#000"/>
<circle cx="59.27" cy="308.00" r="2.90" fill="#000"/>
<circle cx="62.63" cy="308.00" r="2.90" fill="#000"/>
<circle cx="66.00" cy="308.00" r="2.90" fill="#000"/>
<circle cx="72.73" cy="308.00" r="2.90" fill="#000"/>
<circle cx="79.47" cy="308.00" r="2.90" fill="#000"/>
<circle cx="86.20" cy="308.00" r="2.90" fill="#000"/>
<circle cx="92.93" cy="308.00" r="2.90" fill="#000"/>
<circle cx="99.67" cy="308.00" r="2.90" fill="#000"/>
<circle cx="106.40" cy="308.00" r="2.90" fill="#000"/>
<circle cx="113.13" cy="308.00" r="2.90" fill="#000"/>
<circle cx="119.87" cy="308.00" r="2.90" fill="#000"/>
<circle cx="126.60" cy="308.00" r="2.90" fill="#000"/>
<circle cx="133.33" cy="308.00" r="2.90" fill="#000"/>
<circle cx="140.06" cy="307.75" r="2.90" fill="#000"/>
<circle cx="146.80" cy="306.90" r="2.90" fill="#000"/>
<circle cx="153.53" cy="305.40" r="2.90" fill="#000"/>
<circle cx="160.26" cy="304.00" r="2.90" fill="#000"/>
<circle cx="167.00" cy="301.25" r="2.90" fill="#000"/>
<circle cx="173.73" cy="299.50" r="2.90" fill="#000"/>
<circle cx="180.46" cy="292.25" r="2.90" fill="#000"/>
<circle cx="187.20" cy="285.60" r="2.90" fill="#000"/>
<circle cx="193.93" cy="279.70" r="2.90" fill="#000"/>
<circle cx="200.66" cy="273.40" r="2.90" fill="#000"/>
<circle cx="207.40" cy="268.50" r="2.90" fill="#000"/>
<circle cx="214.13" cy="263.75" r="2.90" fill="#000"/>
<circle cx="220.86" cy="260.40" r="2.90" fill="#000"/>
<circle cx="227.60" cy="257.75" r="2.90" fill="#000"/>
<circle cx="234.33" cy="255.60" r="2.90" fill="#000"/>
<circle cx="241.06" cy="253.75" r="2.90" fill="#000"/>
<circle cx="247.80" cy="252.50" r="2.90" fill="#000"/>
<path d="M307.60 302.70L310.20 307.70L305.00 307.70Z" fill="#fff" stroke="#000" stroke-width="1.0" stroke-linejoin="miter"/>
<path d="M309.29 302.70L311.89 307.70L306.69 307.70Z" fill="#fff" stroke="#000" stroke-width="1.0" stroke-linejoin="miter"/>
<path d="M310.97 302.70L313.57 307.70L308.37 307.70Z" fill="#fff" stroke="#000" stroke-width="1.0" stroke-linejoin="miter"/>
<path d="M312.66 302.70L315.26 307.70L310.06 307.70Z" fill="#fff" stroke="#000" stroke-width="1.0" stroke-linejoin="miter"/>
<path d="M314.35 302.70L316.95 307.70L311.75 307.70Z" fill="#fff" stroke="#000" stroke-width="1.0" stroke-linejoin="miter"/>
<path d="M316.03 302.70L318.63 307.70L313.43 307.70Z" fill="#fff" stroke="#000" stroke-width="1.0" stroke-linejoin="miter"/>
<path d="M317.72 302.70L320.32 307.70L315.12 307.70Z" fill="#fff" stroke="#000" stroke-width="1.0" stroke-linejoin="miter"/>
<path d="M321.09 302.70L323.69 307.70L318.49 307.70Z" fill="#fff" stroke="#000" stroke-width="1.0" stroke-linejoin="miter"/>
<path d="M324.47 302.70L327.07 307.70L321.87 307.70Z" fill="#fff" stroke="#000" stroke-width="1.0" stroke-linejoin="miter"/>
<path d="M327.84 302.70L330.44 307.70L325.24 307.70Z" fill="#fff" stroke="#000" stroke-width="1.0" stroke-linejoin="miter"/>
<path d="M334.59 302.70L337.19 307.70L331.99 307.70Z" fill="#fff" stroke="#000" stroke-width="1.0" stroke-linejoin="miter"/>
<path d="M341.33 302.70L343.93 307.70L338.73 307.70Z" fill="#fff" stroke="#000" stroke-width="1.0" stroke-linejoin="miter"/>
<path d="M348.08 302.70L350.68 307.70L345.48 307.70Z" fill="#fff" stroke="#000" stroke-width="1.0" stroke-linejoin="miter"/>
<path d="M354.82 302.70L357.42 307.70L352.22 307.70Z" fill="#fff" stroke="#000" stroke-width="1.0" stroke-linejoin="miter"/>
<path d="M361.57 302.70L364.17 307.70L358.97 307.70Z" fill="#fff" stroke="#000" stroke-width="1.0" stroke-linejoin="miter"/>
<path d="M368.32 302.70L370.92 307.70L365.72 307.70Z" fill="#fff" stroke="#000" stroke-width="1.0" stroke-linejoin="miter"/>
<path d="M375.06 302.70L377.66 307.70L372.46 307.70Z" fill="#fff" stroke="#000" stroke-width="1.0" stroke-linejoin="miter"/>
<path d="M381.81 302.70L384.41 307.70L379.21 307.70Z" fill="#fff" stroke="#000" stroke-width="1.0" stroke-linejoin="miter"/>
<path d="M388.56 302.70L391.16 307.70L385.96 307.70Z" fill="#fff" stroke="#000" stroke-width="1.0" stroke-linejoin="miter"/>
<path d="M395.30 302.70L397.90 307.70L392.70 307.70Z" fill="#fff" stroke="#000" stroke-width="1.0" stroke-linejoin="miter"/>
<path d="M402.05 302.70L404.65 307.70L399.45 307.70Z" fill="#fff" stroke="#000" stroke-width="1.0" stroke-linejoin="miter"/>
<path d="M408.80 302.70L411.40 307.70L406.20 307.70Z" fill="#fff" stroke="#000" stroke-width="1.0" stroke-linejoin="miter"/>
<path d="M415.54 302.70L418.14 307.70L412.94 307.70Z" fill="#fff" stroke="#000" stroke-width="1.0" stroke-linejoin="miter"/>
<path d="M422.29 302.70L424.89 307.70L419.69 307.70Z" fill="#fff" stroke="#000" stroke-width="1.0" stroke-linejoin="miter"/>
<path d="M429.04 302.70L431.64 307.70L426.44 307.70Z" fill="#fff" stroke="#000" stroke-width="1.0" stroke-linejoin="miter"/>
<path d="M435.78 302.70L438.38 307.70L433.18 307.70Z" fill="#fff" stroke="#000" stroke-width="1.0" stroke-linejoin="miter"/>
<path d="M442.53 302.70L445.13 307.70L439.93 307.70Z" fill="#fff" stroke="#000" stroke-width="1.0" stroke-linejoin="miter"/>
<path d="M449.27 302.70L451.87 307.70L446.67 307.70Z" fill="#fff" stroke="#000" stroke-width="1.0" stroke-linejoin="miter"/>
<path d="M456.02 302.70L458.62 307.70L453.42 307.70Z" fill="#fff" stroke="#000" stroke-width="1.0" stroke-linejoin="miter"/>
<path d="M462.77 302.70L465.37 307.70L460.17 307.70Z" fill="#fff" stroke="#000" stroke-width="1.0" stroke-linejoin="miter"/>
<path d="M469.51 302.70L472.11 307.70L466.91 307.70Z" fill="#fff" stroke="#000" stroke-width="1.0" stroke-linejoin="miter"/>
<path d="M476.26 302.70L478.86 307.70L473.66 307.70Z" fill="#fff" stroke="#000" stroke-width="1.0" stroke-linejoin="miter"/>
<path d="M483.01 302.70L485.61 307.70L480.41 307.70Z" fill="#fff" stroke="#000" stroke-width="1.0" stroke-linejoin="miter"/>
<path d="M489.75 302.70L492.35 307.70L487.15 307.70Z" fill="#fff" stroke="#000" stroke-width="1.0" stroke-linejoin="miter"/>
<path d="M496.50 302.70L499.10 307.70L493.90 307.70Z" fill="#fff" stroke="#000" stroke-width="1.0" stroke-linejoin="miter"/>
<path d="M503.25 302.70L505.85 307.70L500.65 307.70Z" fill="#fff" stroke="#000" stroke-width="1.0" stroke-linejoin="miter"/>
<path d="M509.99 302.70L512.59 307.70L507.39 307.70Z" fill="#fff" stroke="#000" stroke-width="1.0" stroke-linejoin="miter"/>
<circle cx="307.60" cy="304.80" r="2.70" fill="#000"/>
<circle cx="309.29" cy="304.80" r="2.70" fill="#000"/>
<circle cx="310.97" cy="304.80" r="2.70" fill="#000"/>
<circle cx="312.66" cy="304.80" r="2.70" fill="#000"/>
<circle cx="314.35" cy="304.80" r="2.70" fill="#000"/>
<circle cx="316.03" cy="304.80" r="2.70" fill="#000"/>
<circle cx="317.72" cy="304.80" r="2.70" fill="#000"/>
<circle cx="321.09" cy="304.80" r="2.70" fill="#000"/>
<circle cx="324.47" cy="304.80" r="2.70" fill="#000"/>
<circle cx="327.84" cy="304.80" r="2.70" fill="#000"/>
<circle cx="334.59" cy="304.80" r="2.70" fill="#000"/>
<circle cx="341.33" cy="304.80" r="2.70" fill="#000"/>
<circle cx="348.08" cy="304.80" r="2.70" fill="#000"/>
<circle cx="354.82" cy="304.80" r="2.70" fill="#000"/>
<circle cx="361.57" cy="304.80" r="2.70" fill="#000"/>
<circle cx="368.32" cy="304.80" r="2.70" fill="#000"/>
<circle cx="375.06" cy="304.80" r="2.70" fill="#000"/>
<circle cx="381.81" cy="304.80" r="2.70" fill="#000"/>
<circle cx="388.56" cy="304.80" r="2.70" fill="#000"/>
<circle cx="395.30" cy="304.80" r="2.70" fill="#000"/>
<circle cx="402.05" cy="304.80" r="2.70" fill="#000"/>
<circle cx="408.80" cy="304.80" r="2.70" fill="#000"/>
<circle cx="415.54" cy="304.80" r="2.70" fill="#000"/>
<circle cx="422.29" cy="304.80" r="2.70" fill="#000"/>
<circle cx="429.04" cy="304.80" r="2.70" fill="#000"/>
<circle cx="435.78" cy="304.80" r="2.70" fill="#000"/>
<circle cx="442.53" cy="304.80" r="2.70" fill="#000"/>
<circle cx="449.27" cy="304.80" r="2.70" fill="#000"/>
<circle cx="456.02" cy="304.80" r="2.70" fill="#000"/>
<circle cx="462.77" cy="304.80" r="2.70" fill="#000"/>
<circle cx="469.51" cy="304.80" r="2.70" fill="#000"/>
<circle cx="476.26" cy="304.80" r="2.70" fill="#000"/>
<circle cx="483.01" cy="304.80" r="2.70" fill="#000"/>
<circle cx="489.75" cy="304.80" r="2.70" fill="#000"/>
<circle cx="496.50" cy="304.80" r="2.70" fill="#000"/>
<circle cx="503.25" cy="304.80" r="2.70" fill="#000"/>
<circle cx="509.99" cy="304.80" r="2.70" fill="#000"/>
</svg>
</body></html>
